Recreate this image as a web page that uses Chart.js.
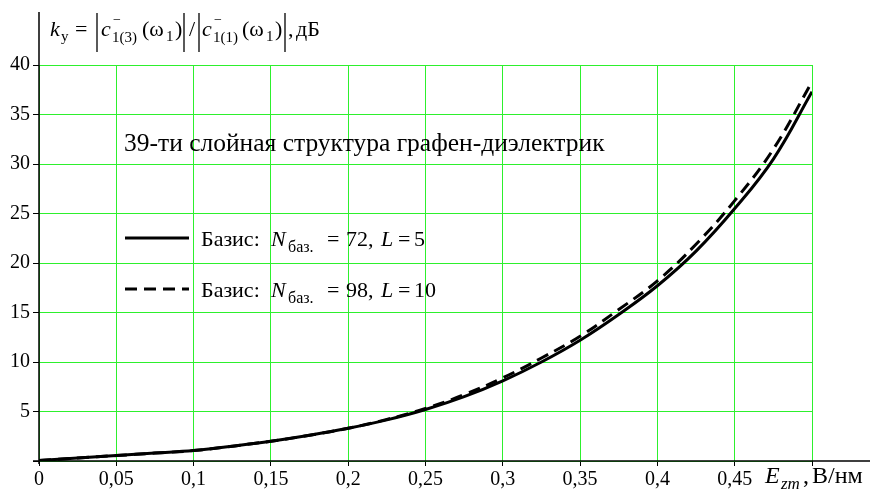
<!DOCTYPE html>
<html>
<head>
<meta charset="utf-8">
<script src="https://cdn.jsdelivr.net/npm/chart.js@4.4.0/dist/chart.umd.min.js"></script>
<style>
  html, body { margin: 0; padding: 0; background: #fff; }
  #wrap { width: 870px; height: 491px; position: relative; }
</style>
</head>
<body>
<div id="wrap"><canvas id="kChart"></canvas></div>
<script>
// field amplitude E_zm, В/нм
const eValues = [0, 0.025, 0.05, 0.075, 0.1, 0.125, 0.15, 0.175, 0.2, 0.225, 0.25,
                 0.275, 0.3, 0.325, 0.35, 0.375, 0.4, 0.425, 0.45, 0.475, 0.5];
// k_y, дБ  (basis N=72, L=5)
const basis72 = [0.05, 0.3, 0.55, 0.8, 1.05, 1.5, 2.0, 2.6, 3.3, 4.15, 5.2,
                 6.5, 8.1, 10.0, 12.2, 14.8, 17.7, 21.2, 25.5, 30.5, 37.3];
// k_y, дБ  (basis N=98, L=10)
const basis98 = [0.05, 0.3, 0.55, 0.8, 1.05, 1.5, 2.0, 2.6, 3.3, 4.2, 5.3,
                 6.7, 8.4, 10.4, 12.6, 15.3, 18.2, 21.9, 26.3, 31.5, 38.3];
const xTicks = { min: 0, max: 0.5, step: 0.05 };
const yTicks = { min: 0, max: 40, step: 5 };

const FONT = '"Liberation Serif", "Times New Roman", serif';
const GREEN = 'rgb(45,240,45)';

function pts(ys) {
    return eValues.map((x, i) => ({ x: x, y: ys[i] }));
}

// text pieces placed at their own x (italic / sub / abs bars)
function drawRuns(ctx, y, runs) {
    ctx.fillStyle = '#000';
    ctx.textBaseline = 'alphabetic';
    ctx.textAlign = 'left';
    runs.forEach(r => {
        if (r.bar) {
            ctx.save();
            ctx.strokeStyle = '#000';
            ctx.lineWidth = 1.3;
            ctx.beginPath();
            ctx.moveTo(r.x, y - 23);
            ctx.lineTo(r.x, y + 16);
            ctx.stroke();
            ctx.restore();
            return;
        }
        ctx.font = (r.i ? 'italic ' : '') + (r.s || 22) + 'px ' + FONT;
        ctx.fillText(r.t, r.x, y + (r.dy || 0));
    });
}

const textPlugin = {
    id: 'textPlugin',
    afterDraw(chart) {
        const ctx = chart.ctx;
        const area = chart.chartArea;
        ctx.save();
        // axes (extended like in the original)
        ctx.strokeStyle = '#000';
        ctx.lineWidth = 1.5;
        ctx.beginPath();
        ctx.moveTo(area.left, 12);
        ctx.lineTo(area.left, area.bottom + 3);
        ctx.moveTo(area.left - 6, area.bottom);
        ctx.lineTo(870, area.bottom);
        ctx.stroke();

        // title of y axis
        drawRuns(ctx, 36, [
            { t: 'k', i: true, x: 50 }, { t: 'у', s: 15, dy: 5, x: 61 }, { t: '=', x: 75 },
            { bar: true, x: 97 }, { t: 'c', i: true, x: 101 }, { t: '−', s: 14, dy: -12, x: 113 },
            { t: '1(3)', s: 15, dy: 6, x: 112 }, { t: '(ω', x: 142 }, { t: '1', s: 15, dy: 5, x: 166 },
            { t: ')', x: 175 }, { bar: true, x: 184 }, { t: '/', x: 189 }, { bar: true, x: 199 },
            { t: 'c', i: true, x: 202 }, { t: '−', s: 14, dy: -12, x: 214 },
            { t: '1(1)', s: 15, dy: 6, x: 213 }, { t: '(ω', x: 242 }, { t: '1', s: 15, dy: 5, x: 266 },
            { t: ')', x: 275 }, { bar: true, x: 285 }, { t: ',', x: 288 }, { t: 'дБ', x: 296 }
        ]);

        // annotation
        drawRuns(ctx, 151, [{ t: '39-ти слойная структура графен-диэлектрик', s: 25.5, x: 124 }]);

        // legend
        const legendRows = [
            { y: 238, dash: [], n: '72,', l: '5' },
            { y: 289, dash: [12, 7], n: '98,', l: '10' }
        ];
        legendRows.forEach(row => {
            ctx.strokeStyle = '#000';
            ctx.lineWidth = 3;
            ctx.setLineDash(row.dash);
            ctx.beginPath();
            ctx.moveTo(125, row.y);
            ctx.lineTo(189, row.y);
            ctx.stroke();
            ctx.setLineDash([]);
            drawRuns(ctx, row.y + 8, [
                { t: 'Базис:', x: 201 }, { t: 'N', i: true, x: 271 }, { t: 'баз.', s: 16, dy: 6, x: 288 },
                { t: '=', x: 327 }, { t: row.n, x: 346 }, { t: 'L', i: true, x: 381 },
                { t: '=', x: 398 }, { t: row.l, x: 414 }
            ]);
        });

        // x axis title
        drawRuns(ctx, 483, [
            { t: 'E', i: true, s: 24, x: 765 }, { t: 'zm', i: true, s: 17, dy: 6, x: 781 },
            { t: ',', s: 24, x: 803 }, { t: 'В/нм', s: 24, x: 812 }
        ]);
        ctx.restore();
    }
};

function initChart() {
    const ctx = document.getElementById('kChart').getContext('2d');
    new Chart(ctx, {
        type: 'line',
        data: {
            datasets: [{
                data: pts(basis72),
                borderColor: '#000',
                borderWidth: 3,
                pointRadius: 0,
                tension: 0.4,
                fill: false
            }, {
                data: pts(basis98),
                borderColor: '#000',
                borderWidth: 3,
                borderDash: [12, 7],
                pointRadius: 0,
                tension: 0.4,
                fill: false
            }]
        },
        options: {
            responsive: true, maintainAspectRatio: false,
            animation: false,
            layout: { padding: { top: 65, right: 58, left: 0, bottom: 0 } },
            plugins: { legend: { display: false }, tooltip: { enabled: false } },
            scales: {
                x: {
                    type: 'linear', min: xTicks.min, max: xTicks.max,
                    border: { display: false },
                    grid: { color: GREEN, lineWidth: 1, tickColor: '#000', tickLength: 5 },
                    ticks: {
                        stepSize: xTicks.step, color: '#000', padding: 2, maxRotation: 0,
                        font: { family: FONT, size: 20 },
                        callback: v => Math.abs(v - 0.5) < 1e-9 ? '' : String(+v.toFixed(2)).replace('.', ',')
                    },
                    afterFit: s => { s.height = 30; }
                },
                y: {
                    min: yTicks.min, max: yTicks.max,
                    border: { display: false },
                    grid: { color: GREEN, lineWidth: 1, tickColor: '#000', tickLength: 6 },
                    ticks: {
                        stepSize: yTicks.step, color: '#000', padding: 3,
                        font: { family: FONT, size: 20 },
                        callback: v => v === 0 ? '' : v
                    },
                    afterFit: s => { s.width = 39; }
                }
            }
        },
        plugins: [textPlugin]
    });
}

window.onload = initChart;
</script>
</body>
</html>
